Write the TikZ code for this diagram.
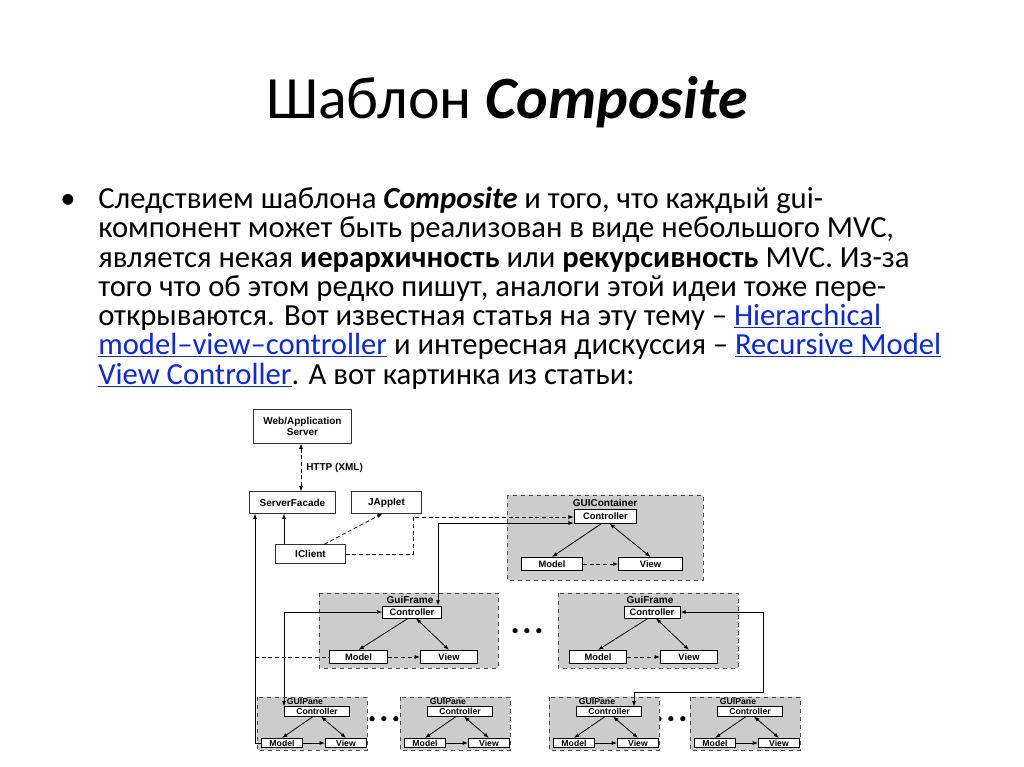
\documentclass[tikz,border=0pt]{standalone}
\usepackage{fontspec}
\setmainfont{Carlito}
\newfontfamily\dfont{Liberation Sans}
\usetikzlibrary{arrows.meta}
\definecolor{lnk}{RGB}{10,40,230}
\newcommand{\lk}[1]{{\color{lnk}\underline{#1}}}
\begin{document}
\begin{tikzpicture}[x=0.75pt,y=-0.75pt,
  ln/.style={anchor=base west,inner sep=0,font=\fontsize{23}{23}\selectfont},
  grp/.style={draw=black!70,dashed,fill=black!20,line width=0.6pt},
  ib/.style={draw,fill=white,line width=0.6pt,inner sep=0,font=\dfont\bfseries\fontsize{7}{7}\selectfont},
  wb/.style={draw=black!80,fill=white,line width=0.6pt,inner sep=0,align=center,font=\dfont\bfseries\fontsize{7.5}{8.5}\selectfont},
  gl/.style={font=\dfont\bfseries\fontsize{7.5}{7.5}\selectfont,inner sep=0},
  ar/.style={-{Latex[length=4pt,width=3pt]},line width=0.6pt},
  bar/.style={{Latex[length=4pt,width=3pt]}-{Latex[length=4pt,width=3pt]},line width=0.6pt},
  dl/.style={line width=0.6pt,densely dashed}]
\useasboundingbox (0,0) rectangle (1024,767);
\fill[white] (0,0) rectangle (1024,767);
\node[anchor=base,inner sep=0,font=\fontsize{45}{45}\selectfont] (title) at (507,118) {Шаблон \textbf{\textit{Composite}}};
\node[anchor=base west,inner sep=0,font=\fontsize{23}{23}\selectfont] (bul) at (60,208) {•};
\node[ln] (l1) at (98,208) {Следствием шаблона \textbf{\textit{Composite}} и того, что каждый gui-};
\node[ln] (l2) at (98,237) {компонент может быть реализован в виде небольшого MVC,};
\node[ln] (l3) at (98,267) {является некая \textbf{иерархичность} или \textbf{рекурсивность} MVC. Из-за};
\node[ln] (l4) at (98,296) {того что об этом редко пишут, аналоги этой идеи тоже пере-};
\node[ln] (l5) at (98,325) {открываются. Вот известная статья на эту тему – \lk{Hierarchical}};
\node[ln] (l6) at (98,354) {\lk{model–view–controller} и интересная дискуссия – \lk{Recursive Model}};
\node[ln] (l7) at (98,384) {\lk{View Controller}. А вот картинка из статьи:};
% top boxes
\node[wb,minimum width=73pt,minimum height=25pt] (ws) at (302.5,426.5) {Web/Application\\Server};
\node[wb,minimum width=65pt,minimum height=16pt] (sf) at (292.5,502.5) {ServerFacade};
\node[wb,minimum width=52pt,minimum height=16pt] (ja) at (386.5,502.5) {JApplet\vphantom{g}};
\node[wb,minimum width=52pt,minimum height=14pt] (ic) at (310.5,554) {IClient};
\node[gl,anchor=west] (http) at (306,468) {HTTP (XML)};
% GUIContainer
\draw[grp] (507,495) rectangle (703,580);
\node[gl] (gct) at (605,503) {GUIContainer};
\node[ib,minimum width=47pt,minimum height=10pt] (c0) at (605.5,516.5) {Controller};
\node[ib,minimum width=46pt,minimum height=10pt] (m0) at (552,564) {Model};
\node[ib,minimum width=48pt,minimum height=10pt] (v0) at (650.5,564) {View};
% GuiFrame left
\draw[grp] (319,593) rectangle (498,668);
\node[gl] (gf1t) at (410,600) {GuiFrame};
\node[ib,minimum width=44pt,minimum height=9pt] (c1) at (412,612) {Controller};
\node[ib,minimum width=43pt,minimum height=10pt] (m1) at (358.5,657) {Model};
\node[ib,minimum width=43pt,minimum height=10pt] (v1) at (449,657) {View};
% GuiFrame right
\draw[grp] (558,593) rectangle (738,668);
\node[gl] (gf2t) at (650,600) {GuiFrame};
\node[ib,minimum width=42pt,minimum height=9pt] (c2) at (652,612) {Controller};
\node[ib,minimum width=43pt,minimum height=10pt] (m2) at (598,657) {Model};
\node[ib,minimum width=43pt,minimum height=10pt] (v2) at (689,657) {View};
% dots
\foreach \x/\y/\n in {527/632/a,384/720/b,671/720/c}{
  \node[inner sep=0,font=\fontsize{10}{10}\selectfont] (dots\n) at (\x,\y) {$\bullet\,\bullet\,\bullet$};}
% GUIPanes
\foreach \x/\n in {257/p1,400/p2,549/p3,690/p4}{
  \draw[grp] (\x,697) rectangle (\x+110,750);
  \node[gl,font=\dfont\bfseries\fontsize{6.5}{6.5}\selectfont] (\n t) at (\x+48,702) {GUIPane};
  \node[ib,minimum width=49pt,minimum height=7pt,font=\dfont\bfseries\fontsize{6.5}{6.5}\selectfont] (\n c) at (\x+60,711.5) {Controller};
  \node[ib,minimum width=31pt,minimum height=7pt,font=\dfont\bfseries\fontsize{6.5}{6.5}\selectfont] (\n m) at (\x+25,743) {Model};
  \node[ib,minimum width=31pt,minimum height=7pt,font=\dfont\bfseries\fontsize{6.5}{6.5}\selectfont] (\n v) at (\x+89,743) {View};
  \draw[ar] ([xshift=-3pt]\n c.south) -- (\n m.north);
  \draw[bar] ([xshift=3pt]\n c.south) -- (\n v.north);
  \draw[ar] (\n m) -- (\n v);
}
% internal arrows
\foreach \c/\m/\v in {c0/m0/v0,c1/m1/v1,c2/m2/v2}{
  \draw[ar] ([xshift=-3pt]\c.south) -- (\m.north);
  \draw[bar] ([xshift=3pt]\c.south) -- (\v.north);
  \draw[ar,dl] (\m) -- (\v);
}
% connectors
\draw[bar,dl] (ws.south -| 301,0) -- (sf.north -| 301,0);
\draw[ar] (ic.north -| 284,0) -- (sf.south -| 284,0);
\draw[ar,dl] ([xshift=-16pt]ic.north east) -- ([xshift=-3pt]ja.south);
\draw[ar,dl] (ic.east) -| (413,517) -- (c0.west |- 0,517);
\draw[bar] (c1.north -| 438,0) |- (c0.west |- 0,523);
\draw[ar] (p1m.west) -| (sf.south -| 255,0);
\draw[dl] (255,657) -- (m1.west);
\draw[bar] (p1c.north -| 284,0) |- (c1.west);
\draw[bar] (c2.east) -| (763,692) -| (p3c.north -| 634,0);
\end{tikzpicture}
\end{document}
